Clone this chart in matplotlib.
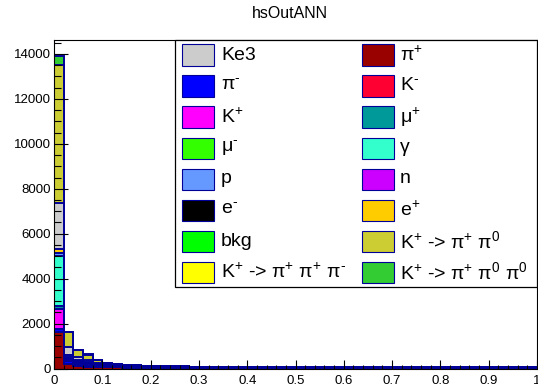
import numpy as np
import matplotlib
matplotlib.use("Agg")
import matplotlib.pyplot as plt
from matplotlib.patches import Rectangle

plt.rcParams['font.family'] = ['Liberation Sans', 'DejaVu Sans']
plt.rcParams['mathtext.fontset'] = 'custom'
plt.rcParams['mathtext.rm'] = 'Liberation Sans'
plt.rcParams['mathtext.it'] = 'Liberation Sans:italic'
plt.rcParams['mathtext.bf'] = 'Liberation Sans:bold'

# 50 bins of the ANN output, 0..1
n_bins = 50

# stacked contributions (bottom -> top), counts per bin
pi_plus = [1640, 200, 110, 80, 60, 50, 45, 40, 35, 30,
           30, 30, 25, 25, 22, 20, 21, 20, 19, 20,
           21, 20, 20, 19, 20, 21, 20, 20, 19, 20,
           20, 21, 20, 19, 20, 20, 20, 21, 20, 19,
           20, 20, 20, 21, 20, 20, 19, 20, 20, 20]
pi_minus = [100, 140, 110, 90, 80, 70, 65, 60, 55, 55,
            50, 50, 50, 50, 48, 46, 45, 46, 44, 45,
            46, 45, 44, 45, 46, 45, 45, 44, 45, 46,
            45, 44, 45, 45, 46, 45, 44, 45, 45, 46,
            45, 44, 45, 45, 46, 45, 44, 45, 46, 48]
k_plus = [900, 70, 30, 20, 10, 5, 5, 0, 0, 0,
          0, 0, 0, 0, 0, 0, 0, 0, 0, 0,
          0, 0, 0, 0, 0, 0, 0, 0, 0, 0,
          0, 0, 0, 0, 0, 0, 0, 0, 0, 0,
          0, 0, 0, 0, 0, 0, 0, 0, 0, 0]
mu_plus = [130, 20, 10, 10, 5, 5, 0, 0, 0, 0,
           0, 0, 0, 0, 0, 0, 0, 0, 0, 0,
           0, 0, 0, 0, 0, 0, 0, 0, 0, 0,
           0, 0, 0, 0, 0, 0, 0, 0, 0, 0,
           0, 0, 0, 0, 0, 0, 0, 0, 0, 0]
gamma = [2230, 60, 30, 20, 10, 5, 5, 5, 0, 0,
         0, 0, 0, 0, 0, 0, 0, 0, 0, 0,
         0, 0, 0, 0, 0, 0, 0, 0, 0, 0,
         0, 0, 0, 0, 0, 0, 0, 0, 0, 0,
         0, 0, 0, 0, 0, 0, 0, 0, 0, 0]
proton = [120, 110, 60, 40, 30, 20, 15, 15, 10, 10,
          10, 10, 10, 10, 5, 5, 5, 5, 5, 5,
          5, 5, 5, 5, 5, 5, 5, 5, 5, 5,
          5, 5, 5, 5, 5, 5, 5, 5, 5, 5,
          5, 5, 5, 5, 5, 5, 5, 5, 5, 5]
e_plus = [190, 20, 10, 10, 5, 0, 0, 0, 0, 0,
          0, 0, 0, 0, 0, 0, 0, 0, 0, 0,
          0, 0, 0, 0, 0, 0, 0, 0, 0, 0,
          0, 0, 0, 0, 0, 0, 0, 0, 0, 0,
          0, 0, 0, 0, 0, 0, 0, 0, 0, 0]
ke3 = [2060, 320, 150, 120, 60, 35, 20, 20, 15, 15,
       10, 10, 5, 5, 0, 0, 0, 0, 0, 0,
       0, 0, 0, 0, 0, 0, 0, 0, 0, 0,
       0, 0, 0, 0, 0, 0, 0, 0, 0, 0,
       0, 0, 0, 0, 0, 0, 0, 0, 0, 0]
kpi2 = [6130, 680, 300, 230, 125, 70, 45, 35, 25, 20,
        20, 10, 10, 5, 0, 0, 0, 0, 0, 0,
        0, 0, 0, 0, 0, 0, 0, 0, 0, 0,
        0, 0, 0, 0, 0, 0, 0, 0, 0, 0,
        0, 0, 0, 0, 0, 0, 0, 0, 0, 0]
kpi2pi0 = [420, 20, 10, 10, 5, 0, 0, 0, 0, 0,
           0, 0, 0, 0, 0, 0, 0, 0, 0, 0,
           0, 0, 0, 0, 0, 0, 0, 0, 0, 0,
           0, 0, 0, 0, 0, 0, 0, 0, 0, 0,
           0, 0, 0, 0, 0, 0, 0, 0, 0, 0]

stack = [pi_plus, pi_minus, k_plus, mu_plus, gamma, proton, e_plus, ke3, kpi2, kpi2pi0]
stack_colors = ['#990000', '#0000ff', '#ff00ff', '#009999', '#33ffcc', '#6699ff',
                '#ffcc00', '#cccccc', '#cccc33', '#33cc33']

# legend entries, row-major over two columns (ROOT writes a short "-" as superscript)
legend_labels = ['Ke3', 'π$^{+}$',
                 'π$^{‐}$', 'K$^{‐}$',
                 'K$^{+}$', 'μ$^{+}$',
                 'μ$^{‐}$', 'γ',
                 'p', 'n',
                 'e$^{‐}$', 'e$^{+}$',
                 'bkg', 'K$^{+}$ -> π$^{+}$ π$^{0}$',
                 'K$^{+}$ -> π$^{+}$ π$^{+}$ π$^{‐}$', 'K$^{+}$ -> π$^{+}$ π$^{0}$ π$^{0}$']
legend_colors = ['#cccccc', '#990000',
                 '#0000ff', '#ff0033',
                 '#ff00ff', '#009999',
                 '#33ff00', '#33ffcc',
                 '#6699ff', '#cc00ff',
                 '#000000', '#ffcc00',
                 '#00ff00', '#cccc33',
                 '#ffff00', '#33cc33']

W, H = 538, 390
fig = plt.figure(figsize=(W / 100, H / 100), dpi=100)
fig.patch.set_facecolor('white')
ax = fig.add_axes([54 / W, 1 - 368.5 / H, (537 - 54) / W, (368.5 - 40) / H])

edges = np.linspace(0, 1, n_bins + 1)
cum = np.cumsum(np.array(stack, dtype=float), axis=0)
navy = '#000099'
# ROOT-like stack: draw total first, then each lower cumulative on top
for i in reversed(range(len(stack))):
    ax.stairs(cum[i], edges, fill=True, facecolor=stack_colors[i],
              edgecolor=navy, linewidth=1.4, baseline=0)

ax.set_xlim(0, 1)
ax.set_ylim(0, 14620)
ax.set_xticks(np.arange(0, 1.01, 0.1))
ax.set_xticklabels(['0', '0.1', '0.2', '0.3', '0.4', '0.5', '0.6', '0.7', '0.8', '0.9', '1'])
ax.set_xticks(np.arange(0, 1.001, 0.02), minor=True)
ax.set_yticks(np.arange(0, 14001, 2000))
ax.set_yticks(np.arange(0, 14601, 500), minor=True)
ax.tick_params(axis='both', which='both', direction='in', width=0.8, labelsize=9.5,
               top=False, right=False)
ax.tick_params(axis='y', which='major', length=10, pad=2)
ax.tick_params(axis='y', which='minor', length=5)
ax.tick_params(axis='x', which='major', length=6.5, pad=5)
ax.tick_params(axis='x', which='minor', length=3.2)
for sp in ax.spines.values():
    sp.set_linewidth(0.8)

fig.text(290 / W, 1 - 13 / H, 'hsOutANN', ha='center', va='center', fontsize=11.5)


def fx(px):
    return px / W


def fy(py):
    return 1 - py / H


# legend box
fig.add_artist(Rectangle((fx(175), fy(287)), fx(537) - fx(175), fy(40) - fy(287),
                         transform=fig.transFigure, facecolor='white',
                         edgecolor='black', linewidth=0.9, zorder=5))
col_swatch = [182, 362]
col_text = [221, 400]
for k, (lab, col) in enumerate(zip(legend_labels, legend_colors)):
    row, c = divmod(k, 2)
    yc = 55 + 31 * row
    fig.add_artist(Rectangle((fx(col_swatch[c]), fy(yc + 10.5)), fx(32), 21 / H,
                             transform=fig.transFigure, facecolor=col,
                             edgecolor=navy, linewidth=0.8, zorder=6))
    fig.text(fx(col_text[c]), fy(yc), lab, ha='left', va='center', fontsize=14, zorder=6)

fig.savefig('out.png', dpi=100, facecolor='white')
